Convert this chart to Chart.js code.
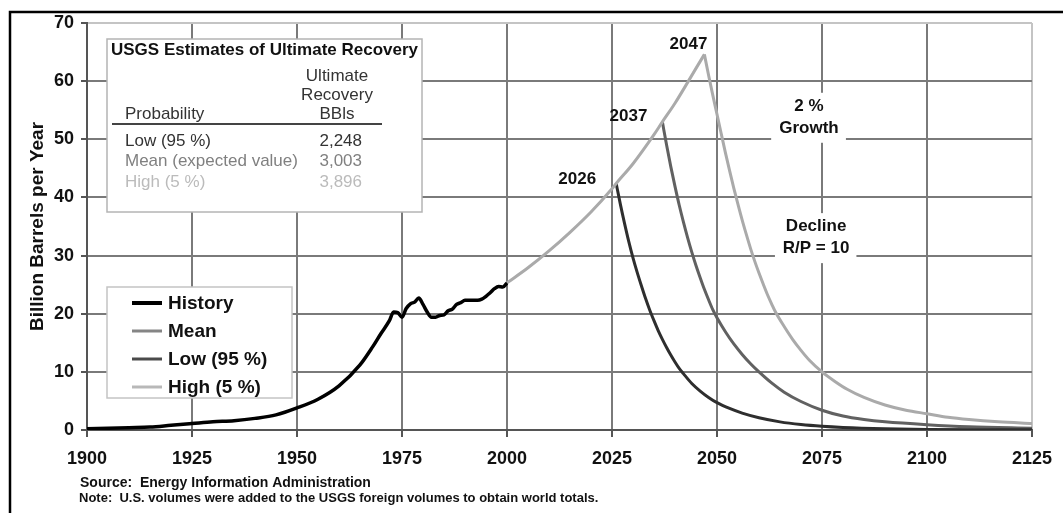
<!DOCTYPE html>
<html>
<head>
<meta charset="utf-8">
<title>World oil production - USGS scenarios</title>
<script src="https://cdn.jsdelivr.net/npm/chart.js@4.4.1/dist/chart.umd.min.js"></script>
<style>
body { margin: 0; background: #fff; }
canvas { display: block; }
</style>
</head>
<body>
<canvas id="canvas" width="1063" height="513"></canvas>
<script>
// history, billion barrels per year
var histYears = [1900,1905,1910,1915,1920,1925,1930,1935,1940,1945,1950,1955,1960,1965,1968,1970,1972,
    1973,1974,1975,1976,1977,1978,1979,1980,1981,1982,1983,1984,1985,1986,1987,1988,1989,1990,
    1991,1992,1993,1994,1995,1996,1997,1998,1999,2000];
var histProd = [0.2,0.3,0.4,0.5,0.8,1.1,1.4,1.6,2.0,2.6,3.8,5.3,7.6,11.2,14.3,16.6,18.8,
    20.3,20.2,19.4,20.9,21.7,22.0,22.7,21.6,20.3,19.4,19.4,19.7,19.8,20.5,20.8,21.6,21.9,22.3,
    22.3,22.3,22.3,22.5,23.0,23.6,24.3,24.7,24.6,25.3];

// 2 % growth from 2000 up to the 2047 peak
var growthYears = [2000,2005,2010,2015,2020,2025,2026,2030,2035,2037,2040,2045,2047];
var growthProd = [25.3,27.9,30.8,34.0,37.5,41.5,42.4,45.8,50.8,53.0,56.2,62.2,64.6];

// declines, R/P = 10
var lowYears = [2026,2027,2028,2029,2030,2031,2032,2033,2034,2035,2036,2037,2038,2039,2040,2041,2042,
    2044,2046,2048,2050,2053,2056,2060,2065,2070,2075,2080,2090,2100,2125];
var lowProd = [42.4,38.8,35.5,32.4,29.6,27.1,24.8,22.6,20.6,18.8,17.1,15.6,14.2,12.9,11.7,10.6,9.7,
    8.0,6.7,5.6,4.7,3.7,2.9,2.1,1.4,0.95,0.65,0.45,0.22,0.1,0.03];

var meanYears = [2037,2038,2039,2040,2041,2042,2043,2044,2045,2046,2047,2048,2049,2050,2052,2054,2056,
    2058,2060,2063,2066,2070,2075,2080,2085,2090,2100,2110,2125];
var meanProd = [53.0,49.0,45.3,41.9,38.7,35.8,33.1,30.6,28.3,26.2,24.2,22.4,20.7,19.3,16.9,14.8,13.0,
    11.4,10.0,8.1,6.5,4.9,3.4,2.4,1.8,1.4,0.9,0.55,0.3];

var highYears = [2047,2048,2049,2050,2051,2052,2053,2054,2055,2056,2057,2058,2059,2060,2061,2062,2063,
    2064,2066,2068,2070,2072,2075,2078,2081,2085,2090,2095,2100,2105,2110,2117,2125];
var highProd = [64.6,61.0,57.6,54.3,51.0,47.7,44.6,41.6,38.8,36.1,33.6,31.2,29.0,27.0,25.1,23.3,21.7,
    20.2,17.8,15.6,13.7,12.0,10.0,8.4,7.0,5.6,4.3,3.4,2.8,2.2,1.8,1.4,1.1];

var peakLabels = ['2026', '2037', '2047'];
var tableHead = ['Ultimate', 'Recovery', 'BBls'];
var tableRows = ['Low (95 %)', 'Mean (expected value)', 'High (5 %)'];
var tableValues = ['2,248', '3,003', '3,896'];

var FONT = "'Liberation Sans', Arial, sans-serif";

function points(xs, ys) {
    return xs.map(function(x, i) {
        return { x: x, y: ys[i] };
    });
}

function drawTable(ctx, a) {
    var bx = a.left + 20, by = 39, bw = 315, bh = 173;
    ctx.fillStyle = '#fff';
    ctx.fillRect(bx, by, bw, bh);
    ctx.strokeStyle = '#b4b4b4';
    ctx.lineWidth = 1.5;
    ctx.strokeRect(bx, by, bw, bh);

    ctx.textBaseline = 'middle';
    ctx.textAlign = 'left';
    ctx.fillStyle = '#111';
    ctx.font = 'bold 17px ' + FONT;
    ctx.fillText('USGS Estimates of Ultimate Recovery', bx + 4, by + 11);

    ctx.font = '17px ' + FONT;
    ctx.fillStyle = '#333';
    ctx.textAlign = 'center';
    tableHead.forEach(function(t, i) {
        ctx.fillText(t, bx + 230, by + 37 + i * 19);
    });
    ctx.textAlign = 'left';
    ctx.fillText('Probability', bx + 18, by + 75);

    ctx.strokeStyle = '#444';
    ctx.lineWidth = 2;
    ctx.beginPath();
    ctx.moveTo(bx + 5, by + 85);
    ctx.lineTo(bx + 275, by + 85);
    ctx.stroke();

    var rowColors = ['#333', '#808080', '#bbbbbb'];
    tableRows.forEach(function(t, i) {
        var yy = by + 102 + i * 20.5;
        ctx.fillStyle = rowColors[i];
        ctx.textAlign = 'left';
        ctx.fillText(t, bx + 18, yy);
        ctx.textAlign = 'right';
        ctx.fillText(tableValues[i], bx + 255, yy);
    });
}

function drawLegend(chart, ctx, a) {
    var bx = a.left + 20, by = 287, bw = 185, bh = 111;
    ctx.fillStyle = '#fff';
    ctx.fillRect(bx, by, bw, bh);
    ctx.strokeStyle = '#c4c4c4';
    ctx.lineWidth = 1.5;
    ctx.strokeRect(bx, by, bw, bh);

    ctx.font = 'bold 19px ' + FONT;
    ctx.textBaseline = 'middle';
    ctx.textAlign = 'left';
    var order = [0, 3, 2, 4];
    order.forEach(function(idx, i) {
        var ds = chart.data.datasets[idx];
        var yy = by + 16 + i * 28;
        ctx.strokeStyle = ds.legendColor;
        ctx.lineWidth = idx === 0 ? 4 : 3;
        ctx.beginPath();
        ctx.moveTo(bx + 25, yy);
        ctx.lineTo(bx + 55, yy);
        ctx.stroke();
        ctx.fillStyle = '#111';
        ctx.fillText(ds.label, bx + 61, yy + 1);
    });
}

function noteBox(ctx, xs, ys, x0, x1, y0, y1, lines, yLines, xText) {
    var px0 = xs.getPixelForValue(x0), px1 = xs.getPixelForValue(x1);
    var py0 = ys.getPixelForValue(y0), py1 = ys.getPixelForValue(y1);
    ctx.fillStyle = '#fff';
    ctx.fillRect(px0, py0, px1 - px0, py1 - py0);
    ctx.fillStyle = '#111';
    ctx.font = 'bold 17px ' + FONT;
    ctx.textAlign = 'center';
    ctx.textBaseline = 'middle';
    lines.forEach(function(t, i) {
        ctx.fillText(t, xs.getPixelForValue(xText), ys.getPixelForValue(yLines[i]));
    });
}

var extras = {
    id: 'extras',
    beforeDatasetsDraw: function(chart) {
        var ctx = chart.ctx;
        var xs = chart.scales.x, ys = chart.scales.y;
        var a = chart.chartArea;
        ctx.save();
        noteBox(ctx, xs, ys, 2062.9, 2080.7, 58.0, 49.4, ['2 %', 'Growth'], [55.6, 51.9], 2071.9);
        noteBox(ctx, xs, ys, 2063.8, 2083.2, 37.3, 28.7, ['Decline', 'R/P = 10'], [35.0, 31.3], 2073.6);

        // year of peak next to each curve's top
        var peaks = [[lowYears[0], lowProd[0], -20, -5], [meanYears[0], meanProd[0], -15, -6], [highYears[0], highProd[0], 3, -11]];
        ctx.font = 'bold 17px ' + FONT;
        ctx.fillStyle = '#111';
        ctx.textAlign = 'right';
        ctx.textBaseline = 'bottom';
        peaks.forEach(function(p, i) {
            ctx.fillText(peakLabels[i], xs.getPixelForValue(p[0]) + p[2], ys.getPixelForValue(p[1]) + p[3] + 9);
        });

        drawTable(ctx, a);
        drawLegend(chart, ctx, a);
        ctx.restore();
    },
    afterDraw: function(chart) {
        var ctx = chart.ctx;
        ctx.save();
        ctx.strokeStyle = '#000';
        ctx.lineWidth = 2.5;
        ctx.beginPath();
        ctx.moveTo(10, 513);
        ctx.lineTo(10, 12);
        ctx.lineTo(1063, 12);
        ctx.stroke();

        ctx.fillStyle = '#111';
        ctx.textAlign = 'left';
        ctx.textBaseline = 'middle';
        ctx.font = 'bold 14px ' + FONT;
        ctx.fillText('Source:  Energy Information Administration', 80, 483);
        ctx.font = 'bold 13px ' + FONT;
        ctx.fillText('Note:  U.S. volumes were added to the USGS foreign volumes to obtain world totals.', 79, 498);
        ctx.restore();
    }
};

var tickFont = { family: FONT, size: 18, weight: 'bold' };

var ctx = document.getElementById('canvas').getContext('2d');
var myChart = new Chart(ctx, {
    type: 'line',
    data: {
        datasets: [{
            label: 'History',
            data: points(histYears, histProd),
            borderColor: '#000',
            legendColor: '#000',
            borderWidth: 3.5,
            pointRadius: 0,
            cubicInterpolationMode: 'monotone'
        },
        {
            label: '2 % Growth',
            data: points(growthYears, growthProd),
            borderColor: '#aaaaaa',
            borderWidth: 3,
            pointRadius: 0,
            cubicInterpolationMode: 'monotone'
        },
        {
            label: 'Low (95 %)',
            data: points(lowYears, lowProd),
            borderColor: '#2e2e2e',
            legendColor: '#4a4a4a',
            borderWidth: 3,
            pointRadius: 0,
            cubicInterpolationMode: 'monotone'
        },
        {
            label: 'Mean',
            data: points(meanYears, meanProd),
            borderColor: '#616161',
            legendColor: '#858585',
            borderWidth: 3,
            pointRadius: 0,
            cubicInterpolationMode: 'monotone'
        },
        {
            label: 'High (5 %)',
            data: points(highYears, highProd),
            borderColor: '#aaaaaa',
            legendColor: '#b8b8b8',
            borderWidth: 3,
            pointRadius: 0,
            cubicInterpolationMode: 'monotone'
        }]
    },
    options: {
        responsive: false,
        animation: false,
        layout: { padding: { left: 22, right: 29, top: 23, bottom: 0 } },
        plugins: {
            legend: { display: false },
            tooltip: { enabled: false }
        },
        scales: {
            x: {
                type: 'linear',
                min: 1900,
                max: 2125,
                afterFit: function(s) { s.height = 83; },
                ticks: {
                    stepSize: 25,
                    autoSkip: false,
                    maxRotation: 0,
                    padding: 11,
                    color: '#111',
                    font: tickFont,
                    callback: function(v) { return String(v); }
                },
                grid: {
                    color: function(c) { return c.tick && c.tick.value === 2125 ? '#c4c4c4' : '#7a7a7a'; },
                    lineWidth: 2,
                    tickLength: 7,
                    tickColor: '#555'
                },
                border: { color: '#555', width: 2 }
            },
            y: {
                min: 0,
                max: 70,
                afterFit: function(s) { s.width = 65; },
                ticks: {
                    stepSize: 10,
                    padding: 7,
                    color: '#111',
                    font: tickFont
                },
                grid: {
                    color: function(c) { return c.tick && c.tick.value === 70 ? '#c4c4c4' : '#7a7a7a'; },
                    lineWidth: 2,
                    tickLength: 6,
                    tickColor: '#555'
                },
                border: { color: '#555', width: 2 },
                title: {
                    display: true,
                    text: 'Billion Barrels per Year',
                    color: '#111',
                    font: { family: FONT, size: 19, weight: 'bold' }
                }
            }
        }
    },
    plugins: [extras]
});
</script>
</body>
</html>
